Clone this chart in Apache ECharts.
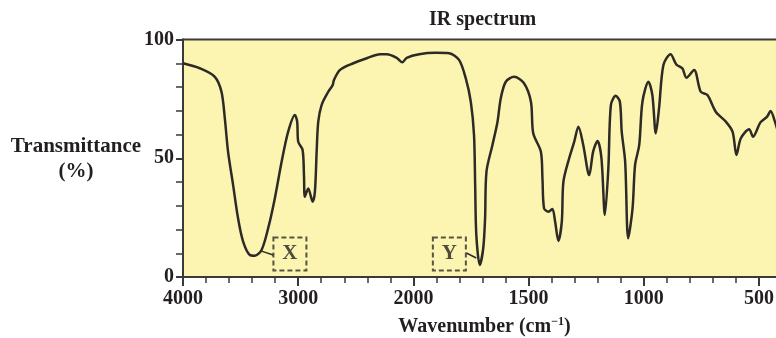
<!DOCTYPE html>
<html>
<head>
<meta charset="utf-8">
<script src="https://cdn.jsdelivr.net/npm/echarts@6/dist/echarts.min.js"></script>
<style>html,body{margin:0;padding:0;background:#fff}#c{width:776px;height:338px}</style>
</head>
<body>
<div id="c"></div>
<script>
// Wavenumber (cm^-1) and transmittance (%)
var wavenumber = [4000, 3855, 3724, 3666, 3637, 3609, 3565, 3522, 3478, 3420, 3377, 3318, 3261, 3203, 3144, 3087, 3029, 3009, 3000, 2962, 2950, 2942, 2913, 2875, 2855, 2840, 2826, 2797, 2739, 2701, 2690, 2637, 2522, 2405, 2290, 2232, 2145, 2096, 2058, 1975, 1903, 1845, 1802, 1773, 1751, 1737, 1732, 1727, 1712, 1697, 1689, 1683, 1657, 1635, 1621, 1599, 1563, 1520, 1490, 1480, 1447, 1440, 1433, 1414, 1397, 1385, 1371, 1356, 1349, 1324, 1302, 1284, 1263, 1237, 1220, 1201, 1184, 1169, 1154, 1143, 1122, 1104, 1096, 1081, 1068, 1049, 1038, 1020, 1006, 980, 963, 948, 934, 915, 884, 859, 833, 815, 782, 753, 724, 688, 644, 615, 598, 579, 543, 526, 494, 465, 450, 431, 415];
var transmittance = [90.0, 87.9, 84.3, 78.0, 66.8, 52.8, 38.7, 24.7, 14.9, 9.3, 9.0, 11.4, 20.5, 33.1, 48.5, 61.2, 68.2, 65.4, 57.0, 53.5, 42.9, 33.8, 37.3, 31.7, 35.9, 52.8, 65.4, 72.4, 78.0, 80.8, 82.9, 87.2, 90.0, 92.1, 93.8, 93.8, 92.3, 90.4, 92.3, 93.8, 94.4, 94.2, 91.4, 83.7, 73.8, 59.8, 38.7, 17.7, 5.1, 12.1, 24.7, 44.3, 55.6, 65.4, 75.2, 82.2, 84.3, 81.6, 73.8, 60.5, 52.8, 41.6, 28.9, 27.5, 28.6, 23.3, 15.2, 23.3, 40.1, 50.0, 57.0, 63.3, 55.6, 42.9, 52.8, 57.3, 50.0, 26.1, 45.8, 72.4, 76.3, 73.8, 61.2, 48.5, 16.3, 28.9, 47.2, 55.6, 73.8, 82.2, 76.6, 60.5, 71.0, 89.3, 93.8, 89.5, 87.9, 83.9, 87.2, 78.0, 76.6, 69.6, 65.4, 61.2, 51.4, 58.4, 62.2, 59.1, 65.1, 67.5, 69.9, 65.4, 60.0];

// Annotation boxes
var annLabels = ['X', 'Y'];
var annWavenumber = [3072, 1844];
var annTransmittance = [9.7, 9.7];
// Leader lines: [wavenumber, T] end points
var leaderX = [[3318, 10.9], [3217, 9.3]];
var leaderY = [[1770, 10.1], [1727, 8.0]];

// Axis tick labels
var xTickLabels = [4000, 3000, 2000, 1500, 1000, 500];
var yTickLabels = [0, 50, 100];

// The IR wavenumber axis doubles its scale below 2000 cm^-1
function toPos(w) { return w >= 2000 ? 4000 - w : 2000 + 2 * (2000 - w); }
function fromPos(p) { return p <= 2000 ? 4000 - p : 2000 - (p - 2000) / 2; }

var FONT = 'Liberation Serif';
var TXT = '#231f20';
var AX = '#3a3a3a';

var lineData = wavenumber.map(function (w, i) { return [toPos(w), transmittance[i]]; });
var annData = annLabels.map(function (n, i) { return { name: n, value: [toPos(annWavenumber[i]), annTransmittance[i]] }; });
function leader(l) { return l.map(function (p) { return [toPos(p[0]), p[1]]; }); }

var chart = echarts.init(document.getElementById('c'), null, { renderer: 'canvas' });
chart.setOption({
  animation: false,
  backgroundColor: '#ffffff',
  title: {
    text: 'IR spectrum', left: 424, top: 5,
    textStyle: { fontFamily: FONT, fontWeight: 'bold', fontSize: 20, color: TXT }
  },
  grid: {
    left: 183, right: -10, top: 39.5, bottom: 61,
    outerBoundsMode: 'none', containLabel: false,
    show: true, backgroundColor: '#fcf5b2', borderColor: AX, borderWidth: 2
  },
  xAxis: {
    type: 'value', min: 0, max: 5234, interval: 1000,
    name: 'Wavenumber (cm{sup|−1})', nameLocation: 'middle', nameGap: 39,
    nameTextStyle: {
      fontFamily: FONT, fontWeight: 'bold', fontSize: 20, color: TXT,
      rich: { sup: { fontFamily: FONT, fontWeight: 'bold', fontSize: 12, color: TXT, verticalAlign: 'top', padding: [0, 0, 10, 0] } }
    },
    axisLine: { show: true, lineStyle: { color: AX, width: 2 } },
    axisTick: { show: true, length: 9, lineStyle: { color: AX, width: 2 } },
    minorTick: { show: true, splitNumber: 5, length: 6, lineStyle: { color: AX, width: 1.5 } },
    splitLine: { show: false },
    axisLabel: {
      margin: 12, fontFamily: FONT, fontWeight: 'bold', fontSize: 20, color: TXT,
      showMaxLabel: false,
      formatter: function (v) {
        var w = Math.round(fromPos(v));
        return (v % 1000 === 0 && xTickLabels.indexOf(w) >= 0) ? String(w) : '';
      }
    }
  },
  yAxis: {
    type: 'value', min: 0, max: 100, interval: 50,
    axisLine: { show: true, lineStyle: { color: AX, width: 2 } },
    axisTick: { show: true, length: 7, lineStyle: { color: AX, width: 2 } },
    minorTick: { show: true, splitNumber: 5, length: 7, lineStyle: { color: AX, width: 1.5 } },
    splitLine: { show: false },
    axisLabel: {
      margin: 9, fontFamily: FONT, fontWeight: 'bold', fontSize: 20, color: TXT,
      formatter: function (v) { return yTickLabels.indexOf(v) >= 0 ? String(v) : ''; }
    }
  },
  graphic: [{
    type: 'text', x: 76, y: 134,
    style: {
      text: 'Transmittance\n(%)', textAlign: 'center', textVerticalAlign: 'top',
      fontFamily: FONT, fontWeight: 'bold', fontSize: 21, lineHeight: 25, fill: TXT
    }
  }],
  series: [
    {
      type: 'line', data: lineData, smooth: 0.3, showSymbol: false, symbol: 'none',
      lineStyle: { color: '#2e2a26', width: 2.5 }, clip: true, z: 3
    },
    {
      type: 'line', data: leader(leaderX), smooth: false, showSymbol: false, symbol: 'none',
      lineStyle: { color: '#2e2a26', width: 1.5 }
    },
    {
      type: 'line', data: leader(leaderY), smooth: false, showSymbol: false, symbol: 'none',
      lineStyle: { color: '#2e2a26', width: 1.5 }
    },
    {
      type: 'scatter', data: annData, symbol: 'rect', symbolSize: 33,
      itemStyle: { color: 'rgba(0,0,0,0)', borderColor: '#2e2a26', borderWidth: 2, borderType: [5, 3] },
      label: {
        show: true, position: 'inside', formatter: '{b}',
        fontFamily: FONT, fontWeight: 'bold', fontSize: 21, color: TXT
      },
      z: 4
    }
  ]
});
</script>
</body>
</html>
